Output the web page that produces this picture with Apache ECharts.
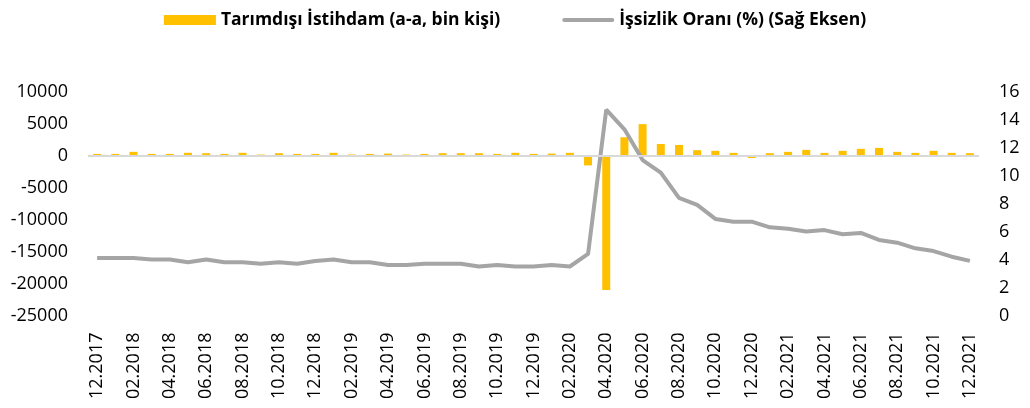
<!DOCTYPE html>
<html>
<head>
<meta charset="utf-8">
<script src="https://cdn.jsdelivr.net/npm/echarts@6/dist/echarts.min.js"></script>
<style>
    html, body { margin: 0; padding: 0; background: #fff; }
    #chart { width: 1030px; height: 408px; }
</style>
</head>
<body>
<div id="chart"></div>
<script>
// aylar: 12.2017 - 12.2021
let months = ['12.2017',
    '01.2018', '02.2018', '03.2018', '04.2018', '05.2018', '06.2018', '07.2018', '08.2018', '09.2018', '10.2018', '11.2018', '12.2018',
    '01.2019', '02.2019', '03.2019', '04.2019', '05.2019', '06.2019', '07.2019', '08.2019', '09.2019', '10.2019', '11.2019', '12.2019',
    '01.2020', '02.2020', '03.2020', '04.2020', '05.2020', '06.2020', '07.2020', '08.2020', '09.2020', '10.2020', '11.2020', '12.2020',
    '01.2021', '02.2021', '03.2021', '04.2021', '05.2021', '06.2021', '07.2021', '08.2021', '09.2021', '10.2021', '11.2021', '12.2021']

// Tarımdışı İstihdam (a-a, bin kişi)
let istihdam = [250,
    250, 570, 250, 250, 420, 360, 250, 420, 150, 360, 250, 250,
    420, 150, 250, 300, 150, 250, 360, 360, 360, 250, 420, 250,
    300, 420, -1550, -21000, 2850, 4900, 1800, 1650, 830, 730, 410, -400,
    360, 570, 880, 410, 730, 1040, 1190, 570, 410, 730, 410, 360]

// İşsizlik Oranı (%)
let issizlik = [4.1,
    4.1, 4.1, 4.0, 4.0, 3.8, 4.0, 3.8, 3.8, 3.7, 3.8, 3.7, 3.9,
    4.0, 3.8, 3.8, 3.6, 3.6, 3.7, 3.7, 3.7, 3.5, 3.6, 3.5, 3.5,
    3.6, 3.5, 4.4, 14.7, 13.3, 11.1, 10.2, 8.4, 7.9, 6.9, 6.7, 6.7,
    6.3, 6.2, 6.0, 6.1, 5.8, 5.9, 5.4, 5.2, 4.8, 4.6, 4.2, 3.9]

let leftTicks = { min: -25000, max: 10000, interval: 5000 }
let rightTicks = { min: 0, max: 16, interval: 2 }

let fontName = '"Open Sans", "Liberation Sans", sans-serif'

var myChart = echarts.init(document.getElementById('chart'));

option = {
    animation: false,
    textStyle: { fontFamily: fontName },
    legend: {
        top: 6,
        left: 'center',
        itemWidth: 52,
        itemHeight: 10,
        itemGap: 62,
        textStyle: { fontSize: 17.5, fontWeight: 'bold', color: '#000', fontFamily: fontName },
        data: [
            { name: 'Tarımdışı İstihdam (a-a, bin kişi)', icon: 'rect' },
            {
                name: 'İşsizlik Oranı (%) (Sağ Eksen)',
                // kalın gri çizgi ikonu (sınır kutusu 52x10)
                icon: 'path://M0,0L0.01,0M2,3L50,3A2,2,0,0,1,50,7L2,7A2,2,0,0,1,2,3ZM52,10L51.99,10'
            }
        ]
    },
    grid: {
        left: 88,
        right: 51,
        top: 91.5,
        bottom: 92.5
    },
    xAxis: {
        type: 'category',
        data: months,
        axisLine: { show: false, onZero: false },
        axisTick: { show: false },
        axisLabel: {
            rotate: 90,
            interval: 1,
            margin: 17,
            color: '#000',
            fontSize: 18
        }
    },
    yAxis: [{
        type: 'value',
        min: leftTicks.min,
        max: leftTicks.max,
        interval: leftTicks.interval,
        splitLine: { show: false },
        axisLine: { show: false },
        axisTick: { show: false },
        axisLabel: {
            color: '#000', fontSize: 18, margin: 20,
            formatter: function (v) { return String(v) }
        }
    }, {
        type: 'value',
        min: rightTicks.min,
        max: rightTicks.max,
        interval: rightTicks.interval,
        splitLine: { show: false },
        axisLine: { show: false },
        axisTick: { show: false },
        axisLabel: { color: '#000', fontSize: 18, margin: 20 }
    }],
    series: [{
        name: 'Tarımdışı İstihdam (a-a, bin kişi)',
        type: 'bar',
        data: istihdam,
        barWidth: 8,
        itemStyle: { color: '#FFC000' },
        markLine: {
            silent: true,
            symbol: 'none',
            label: { show: false },
            lineStyle: { color: '#D9D9D9', width: 2, type: 'solid' },
            data: [{ yAxis: 0 }]
        },
        z: 2
    }, {
        name: 'İşsizlik Oranı (%) (Sağ Eksen)',
        type: 'line',
        yAxisIndex: 1,
        data: issizlik,
        symbol: 'none',
        lineStyle: { color: '#A5A5A5', width: 4 },
        itemStyle: { color: '#A5A5A5' },
        z: 3
    }]
};

myChart.setOption(option);
</script>
</body>
</html>
